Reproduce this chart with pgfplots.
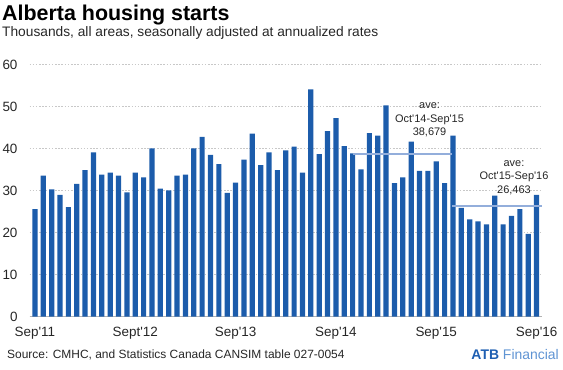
\documentclass[border=0pt]{standalone}
\usepackage{pgfplots}
\pgfplotsset{compat=1.18}
\usepackage{pgfplotstable}
\usepackage{fontspec}
\setmainfont{Liberation Sans}[Ligatures=TeXOff]
\definecolor{barblue}{HTML}{1C5CAB}
\definecolor{avgline}{HTML}{93AEDB}
\definecolor{gridgray}{HTML}{C8C8C8}
\definecolor{atbblue}{HTML}{1F5FB2}
\definecolor{atblight}{HTML}{5E93D3}
\pgfplotstableread{
i v
0 25.6
1 33.6
2 30.3
3 29.0
4 26.1
5 31.6
6 34.9
7 39.1
8 33.8
9 34.3
10 33.6
11 29.6
12 34.3
13 33.2
14 40.1
15 30.5
16 30.1
17 33.6
18 33.8
19 40.1
20 42.8
21 38.5
22 36.3
23 29.5
24 31.9
25 37.4
26 43.6
27 36.1
28 39.1
29 34.9
30 39.6
31 40.5
32 34.3
33 54.1
34 38.7
35 44.2
36 47.3
37 40.6
38 38.9
39 35.1
40 43.7
41 43.1
42 50.3
43 31.8
44 33.2
45 41.7
46 34.7
47 34.7
48 37.0
49 31.8
50 43.1
51 25.9
52 23.2
53 22.7
54 22.0
55 28.8
56 22.0
57 24.0
58 25.6
59 19.7
60 29.0
}\starts
\begin{document}
\begin{tikzpicture}
\path[use as bounding box] (0,0) rectangle (563bp,370bp);
\node[anchor=base west, inner sep=0pt, font=\fontsize{21.5}{24}\selectfont\bfseries] at (2bp,349bp) {Alberta housing starts};
\node[anchor=base west, inner sep=0pt, font=\fontsize{13.8}{16}\selectfont, text=black!85] at (2bp,333bp) {Thousands, all areas, seasonally adjusted at annualized rates};
\node[anchor=west, inner sep=0pt, font=\fontsize{12}{14}\selectfont, text=black!85] at (7bp,15bp) {Source: CMHC, and Statistics Canada CANSIM table 027-0054};
\node[anchor=east, inner sep=0pt, font=\fontsize{14}{16}\selectfont] at (559bp,15bp) {\textcolor{atbblue}{\bfseries ATB} \textcolor{atblight}{Financial}};
\begin{axis}[
  at={(29.5bp,53.3bp)}, anchor=south west,
  scale only axis, width=512.5bp, height=252bp,
  xmin=-0.65, xmax=60.65, ymin=0, ymax=60,
  clip=false,
  axis x line*=bottom, axis y line*=left,
  x axis line style={draw=gray!60, -, line width=0.8pt},
  y axis line style={draw=none},
  xtick={0,12,24,36,48,60},
  xticklabels={Sep'11,Sept'12,Sep'13,Sep'14,Sep'15,Sep'16},
  ytick={0,10,...,60},
  major tick length=0pt,
  ymajorgrids,
  grid style={gridgray, line width=0.8pt, dash pattern=on 1.6pt off 1.6pt},
  tick label style={font=\fontsize{13.5}{15}\selectfont, text=black!85},
  /pgf/number format/assume math mode=true,
  yticklabel style={anchor=east, xshift=-8.5bp},
  xticklabel style={anchor=north, yshift=-7bp},
]
\addplot[ybar, bar width=5.2bp, fill=barblue, draw=none] table[x=i, y=v] {\starts};
\addplot[avgline, line width=2bp, no marks] coordinates {(38,38.679) (49.9,38.679)};
\addplot[avgline, line width=2bp, no marks] coordinates {(49.9,26.463) (60.7,26.463)};
\node[align=center, font=\fontsize{11}{13.5}\selectfont, text=black!85] at (axis cs:47.2,46.8) {ave:\\Oct'14-Sep'15\\38,679};
\node[align=center, font=\fontsize{11}{13.5}\selectfont, text=black!85] at (axis cs:57.3,33.1) {ave:\\Oct'15-Sep'16\\26,463};
\end{axis}
\end{tikzpicture}
\end{document}
